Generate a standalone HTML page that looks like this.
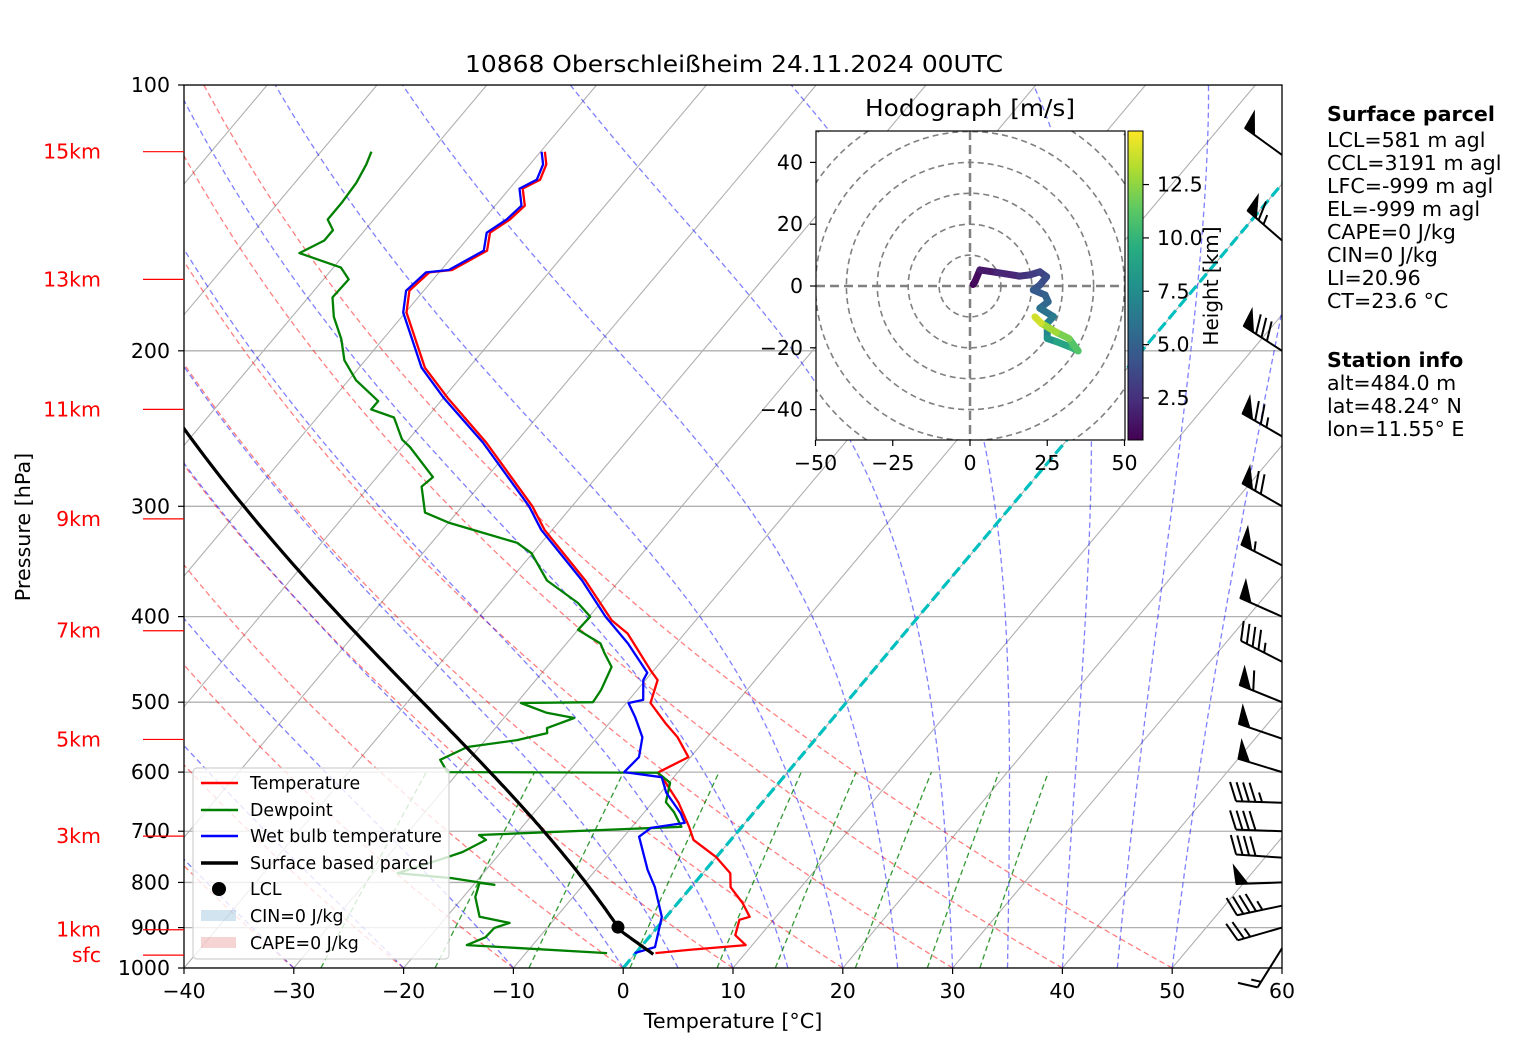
<!DOCTYPE html>
<html><head><meta charset="utf-8"><style>
html,body{margin:0;padding:0;background:#fff;}
svg{display:block;font-family:"DejaVu Sans","Liberation Sans",sans-serif;}
</style></head><body>
<svg id="chart" xmlns="http://www.w3.org/2000/svg" width="1517" height="1054" viewBox="0 0 1517 1054">
<defs>
<clipPath id="plotclip"><rect x="184" y="85" width="1098" height="883"/></clipPath>
<clipPath id="hodoclip"><rect x="816" y="131" width="309" height="309"/></clipPath>
<linearGradient id="viridis" x1="0" y1="1" x2="0" y2="0">
<stop offset="0" stop-color="#440154"/><stop offset="0.125" stop-color="#472d7b"/><stop offset="0.25" stop-color="#3b528b"/><stop offset="0.375" stop-color="#2c728e"/><stop offset="0.5" stop-color="#21918c"/><stop offset="0.625" stop-color="#28ae80"/><stop offset="0.75" stop-color="#5ec962"/><stop offset="0.875" stop-color="#addc30"/><stop offset="1" stop-color="#fde725"/>
</linearGradient>
</defs>
<text x="734" y="72" font-size="23" text-anchor="middle" textLength="538" lengthAdjust="spacingAndGlyphs">10868 Oberschleißheim 24.11.2024 00UTC</text>
<g id="bg" clip-path="url(#plotclip)"></g>
<g id="series" clip-path="url(#plotclip)"></g>
<g id="barbs"></g>
<rect x="184" y="85" width="1098" height="883" fill="none" stroke="#000" stroke-width="1.3"/>
<g id="axes"></g>
<g id="legend">
<rect x="193" y="768" width="256" height="191" rx="4" fill="rgba(255,255,255,0.8)" stroke="#d0d0d0" stroke-width="1.2"/>
<line x1="201" y1="783" x2="238" y2="783" stroke="red" stroke-width="2.5"/>
<text x="250" y="789" font-size="17.4">Temperature</text>
<line x1="201" y1="810" x2="238" y2="810" stroke="green" stroke-width="2.5"/>
<text x="250" y="816" font-size="17.4">Dewpoint</text>
<line x1="201" y1="836" x2="238" y2="836" stroke="blue" stroke-width="2.5"/>
<text x="250" y="842" font-size="17.4">Wet bulb temperature</text>
<line x1="201" y1="863" x2="238" y2="863" stroke="#000" stroke-width="3.5"/>
<text x="250" y="869" font-size="17.4">Surface based parcel</text>
<circle cx="219" cy="889" r="7" fill="#000"/>
<text x="250" y="895" font-size="17.4">LCL</text>
<rect x="201" y="910" width="35" height="11" fill="rgba(31,119,180,0.2)"/>
<text x="250" y="922" font-size="17.4">CIN=0 J/kg</text>
<rect x="201" y="937" width="35" height="11" fill="rgba(214,39,40,0.2)"/>
<text x="250" y="949" font-size="17.4">CAPE=0 J/kg</text>
</g>
<g id="hodo">
<text x="970" y="116" font-size="23" text-anchor="middle" textLength="210" lengthAdjust="spacingAndGlyphs">Hodograph [m/s]</text>
<rect x="816" y="131" width="309" height="309" fill="#fff"/>
<g id="hodobg" clip-path="url(#hodoclip)"></g>
<g id="hodoline" clip-path="url(#hodoclip)"></g>
<rect x="816" y="131" width="309" height="309" fill="none" stroke="#000" stroke-width="1.2"/>
<g id="hodoaxes"></g>
<rect x="1128" y="131" width="15" height="309" fill="url(#viridis)" stroke="#000" stroke-width="1"/>
<g id="cbaxes"></g>
<text x="0" y="0" font-size="20" text-anchor="middle" transform="translate(1218,286) rotate(-90)">Height [km]</text>
</g>
<g id="info" font-size="20.6">
<text x="1327" y="121" font-weight="bold">Surface parcel</text>
<text x="1327" y="147">LCL=581 m agl</text>
<text x="1327" y="170">CCL=3191 m agl</text>
<text x="1327" y="193">LFC=-999 m agl</text>
<text x="1327" y="216">EL=-999 m agl</text>
<text x="1327" y="239">CAPE=0 J/kg</text>
<text x="1327" y="262">CIN=0 J/kg</text>
<text x="1327" y="285">LI=20.96</text>
<text x="1327" y="308">CT=23.6 °C</text>
<text x="1327" y="367" font-weight="bold">Station info</text>
<text x="1327" y="390">alt=484.0 m</text>
<text x="1327" y="413">lat=48.24° N</text>
<text x="1327" y="436">lon=11.55° E</text>
</g>
</svg>
<script>
// ---- sounding data ----
const tempP = [962,954,942,918,882,875,844,810,781,749,716,692,650,617,601,577,548,528,501,472,460,418,404,364,319,300,254,226,209,181,171,163,162,154,147,142,137,131,128,123,119];
const tempT = [1.8,4.6,9.4,7.7,6.9,7.6,5.9,3.6,2.5,0.0,-3.4,-4.8,-7.6,-10.3,-11.8,-10.2,-12.7,-14.9,-17.8,-18.9,-20.3,-25.2,-27.65,-33.1,-40.7,-43.6,-52.7,-59.65,-64.0,-69.9,-71.3,-70.9,-69.0,-67.3,-68.4,-67.6,-67.3,-68.8,-67.9,-68.5,-69.6];
const dewP = [962,942,923,901,889,875,831,801,805,791,781,749,739,716,707,692,666,649,617,601,600,581,562,552,542,535,521,514,501,500,484,456,440,429,414,400,386,364,339,330,313,305,285,278,257,252,238,233,228,216,205,194,183,174,166,161,155,150,146,142,136,129,123,119];
const dewT = [-2.6,-16.0,-14.9,-14.8,-13.8,-17.0,-18.9,-19.6,-18.1,-22.5,-27.8,-24.5,-23.5,-22.3,-23.3,-5.5,-7.3,-8.8,-9.9,-11.8,-31.0,-32.6,-31.1,-27.1,-24.9,-25.3,-23.6,-26.5,-29.6,-23.1,-23.3,-24.1,-25.8,-26.9,-30.0,-29.9,-32.05,-36.6,-40.1,-42.2,-50.0,-52.9,-55.2,-54.9,-59.3,-60.6,-63.0,-65.7,-65.7,-69.3,-71.9,-73.8,-76.2,-77.8,-77.7,-79.3,-84.2,-82.9,-82.9,-84.2,-84.2,-84.4,-84.9,-85.4];
const wetP = [962,947,875,810,774,710,694,685,668,633,608,600,577,548,520,501,497,472,463,429,400,364,319,300,254,226,209,181,171,163,162,154,147,142,137,131,128,123,119];
const wetT = [-0.1,1.3,-0.4,-3.3,-5.3,-8.6,-8.2,-5.5,-6.6,-9.5,-11.1,-14.9,-14.7,-15.9,-18.1,-19.8,-18.7,-20.2,-20.4,-24.4,-28.5,-33.4,-41.0,-43.9,-53.0,-60.0,-64.3,-70.2,-71.6,-71.2,-69.3,-67.6,-68.7,-67.9,-67.6,-69.1,-68.2,-68.8,-69.9];
const surfP = 965;
const surfT = 1.7;
const lclP = 899;
const lclT = -3.6;
// wind barbs
const barbP = [120,150,200,250,300,350,400,450,500,550,600,650,700,750,800,850,900,950];
const barbSpd = [50,65,80,75,70,55,50,45,60,50,50,45,40,40,50,45,25,15];
const barbDir = [306,311,303,300,300,297,294,297,292,289,287,272,272,274,268,258,254,212];
// hodograph
const hodoU = [1,1.6,3.2,8.6,16,19.4,22.6,24.8,22.6,20.5,24.3,25.3,22.6,27,25,25,28,33,35,32,28,23,21];
const hodoV = [0.5,1.4,5.2,4.4,3.2,3.6,4.6,3,0.3,-1.3,-2.9,-5.1,-7.2,-9.9,-12,-17,-18,-20,-21,-17,-15,-12,-10];
const hodoH = [0.5,0.8,1.2,1.8,2.4,2.8,3.2,3.6,4.0,4.4,4.8,5.2,5.6,6.2,6.8,7.6,8.4,9.5,10.5,11.6,12.4,13.5,14.5];
// axis labels
const xTicks = [-40,-30,-20,-10,0,10,20,30,40,50,60];
const pTicks = [100,200,300,400,500,600,700,800,900,1000];
const kmLabels = ['15km','13km','11km','9km','7km','5km','3km','1km','sfc'];
const kmPres = [119,166,233,310,415,551,709,905,967];
const hodoTicks = [-50,-25,0,25,50];
const hodoYTicks = [-40,-20,0,20,40];
const cbTicks = [2.5,5.0,7.5,10.0,12.5];

const NS='http://www.w3.org/2000/svg';
const X0=184,X1=1282,Y0=85,Y1=968,DX=10.98,SK=0.8403;
function py(p){return Y1-883*Math.log10(1000/p);}
function px(T,p){return X0+(T+40)*DX+SK*(Y1-py(p));}
function mk(tag,attrs,parent){const e=document.createElementNS(NS,tag);for(const k in attrs)e.setAttribute(k,attrs[k]);parent.appendChild(e);return e;}
function pathFrom(pts){return pts.map((q,i)=>(i?'L':'M')+q[0].toFixed(1)+' '+q[1].toFixed(1)).join(' ');}
const bg=document.getElementById('bg'), ser=document.getElementById('series'), axes=document.getElementById('axes');

pTicks.forEach(p=>{const l=mk('line',{x1:X0,x2:X1,y1:py(p),y2:py(p),stroke:'#b0b0b0','stroke-width':1.3},bg);

});
for(let T=-140;T<=60;T+=10){const l=mk('path',{d:pathFrom([[px(T,1000),py(1000)],[px(T,100),py(100)]]),stroke:'#b0b0b0','stroke-width':1.1,fill:'none'},bg);

}
for(let T0=-40;T0<=50;T0+=10){const th=T0+273.15;const pts=[];for(let p=1000;p>=100;p-=10){pts.push([px(th*Math.pow(p/1000,0.2857)-273.15,p),py(p)]);}
const l=mk('path',{d:pathFrom(pts),stroke:'rgba(255,0,0,0.5)','stroke-width':1.3,fill:'none','stroke-dasharray':'5.5,3.5'},bg);

}
function es(Tc){return 6.112*Math.exp(17.67*Tc/(Tc+243.5));}
function dTdp(T,p){const Rd=287.04,Lv=2.501e6,Cp=1005.7,eps=0.622;const e=es(T-273.15);const rs=eps*e/(p-e);return (1/p)*(Rd*T+Lv*rs)/(Cp+(Lv*Lv*rs*eps)/(Rd*T*T));}
function moist(t0,p0,pEnd){let T=t0+273.15,p=p0;const pts=[[px(t0,p0),py(p0)]];const h=-5;
while(p>pEnd){const k1=dTdp(T,p),k2=dTdp(T+h/2*k1,p+h/2),k3=dTdp(T+h/2*k2,p+h/2),k4=dTdp(T+h*k3,p+h);T+=h/6*(k1+2*k2+2*k3+k4);p+=h;pts.push([px(T-273.15,p),py(p)]);}
return pts;}
const moistT0=[-40,-30,-20,-10,0,5,10,15,20,25,30,35,40,45,50];
moistT0.forEach(t0=>{const pts=moist(t0,1000,100);
const l=mk('path',{d:pathFrom(pts),stroke:'rgba(0,0,255,0.5)','stroke-width':1.3,fill:'none','stroke-dasharray':'5.5,3.5'},bg);

});
[0.0004,0.001,0.002,0.004,0.007,0.01,0.016,0.024,0.032].forEach(w=>{const pts=[];for(let p=1000;p>=600;p-=10){const e=p*w/(0.622+w);const a=Math.log(e/6.112);const Td=243.5*a/(17.67-a);pts.push([px(Td,p),py(p)]);}
const l=mk('path',{d:pathFrom(pts),stroke:'rgba(0,128,0,0.8)','stroke-width':1.3,fill:'none','stroke-dasharray':'5.5,3.5'},bg);

});
{const l=mk('path',{d:pathFrom([[px(0,1000),py(1000)],[px(0,100),py(100)]]),stroke:'#00bfbf','stroke-width':3.2,fill:'none','stroke-dasharray':'11,5'},bg);

}

function series(P,T,color,w,name){const pts=P.map((p,i)=>[px(T[i],p),py(p)]);
const l=mk('path',{d:pathFrom(pts),stroke:color,'stroke-width':w,fill:'none','stroke-linejoin':'round'},ser);

}
series(tempP,tempT,'red',2.3,'temperature-line');
series(dewP,dewT,'green',2.3,'dewpoint-line');
series(wetP,wetT,'blue',2.3,'wetbulb-line');
// parcel: dry adiabat to LCL then moist adiabat
{const th=(surfT+273.15)*Math.pow(1000/surfP,0.2857);const pts=[];
for(let p=surfP;p>lclP;p-=4){pts.push([px(th*Math.pow(p/1000,0.2857)-273.15,p),py(p)]);}
const mp=moist(lclT,lclP,150);const all=pts.concat(mp);
const l=mk('path',{d:pathFrom(all),stroke:'#000','stroke-width':3.2,fill:'none','stroke-linejoin':'round'},ser);

}
{const c=mk('circle',{cx:px(lclT,lclP),cy:py(lclP),r:6.5,fill:'#000'},ser);

}

xTicks.forEach(T=>{const x=X0+(T+40)*DX;mk('line',{x1:x,x2:x,y1:Y1,y2:Y1+6,stroke:'#000','stroke-width':1.2},axes);
const t=mk('text',{x:x,y:998,'font-size':20.5,'text-anchor':'middle'},axes);t.textContent=(T<0?'\u2212':'')+Math.abs(T);

});
pTicks.forEach(p=>{const y=py(p);mk('line',{x1:X0-6,x2:X0,y1:y,y2:y,stroke:'#000','stroke-width':1.2},axes);
const t=mk('text',{x:170,y:y+7,'font-size':20.5,'text-anchor':'end'},axes);t.textContent=p;

});
kmLabels.forEach((s,i)=>{const y=py(kmPres[i]);mk('line',{x1:143,x2:X0,y1:y,y2:y,stroke:'red','stroke-width':1.2},axes);
const t=mk('text',{x:101,y:y+7,'font-size':20.5,'text-anchor':'end',fill:'red'},axes);t.textContent=s;

});
{const t=mk('text',{x:733,y:1028,'font-size':20.7,'text-anchor':'middle'},axes);t.textContent='Temperature [°C]';


const t2=mk('text',{x:0,y:0,'font-size':20.7,'text-anchor':'middle',transform:'translate(30,527) rotate(-90)'},axes);t2.textContent='Pressure [hPa]';

}

const barbG=document.getElementById('barbs');
barbP.forEach((p,i)=>{const y=py(p),B=[1282,y],d=barbDir[i]*Math.PI/180;const u=[Math.sin(d),-Math.cos(d)],n=[-u[1],u[0]];
const L=46,H=19,W=12,sp=6.5;const tip=[B[0]+u[0]*L,B[1]+u[1]*L];
const g=mk('g',{},barbG);


mk('line',{x1:B[0],y1:B[1],x2:tip[0],y2:tip[1],stroke:'#000','stroke-width':2},g);
let s=barbSpd[i];const flags=Math.floor(s/50);s-=flags*50;const full=Math.floor(s/10);const half=(s%10)>=5?1:0;
let pos=0;const at=q=>[tip[0]-u[0]*q,tip[1]-u[1]*q];
for(let f=0;f<flags;f++){const a=at(pos),b=at(pos+W);const ap=[a[0]+n[0]*H+u[0]*2,a[1]+n[1]*H+u[1]*2];
mk('polygon',{points:[a,ap,b].map(q=>q.join(',')).join(' '),fill:'#000',stroke:'#000','stroke-width':1},g);pos+=W+3;}
for(let f=0;f<full;f++){const a=at(pos);mk('line',{x1:a[0],y1:a[1],x2:a[0]+n[0]*H+u[0]*H*0.35,y2:a[1]+n[1]*H+u[1]*H*0.35,stroke:'#000','stroke-width':2},g);pos+=sp;}
if(half){if(pos===0)pos=sp;const a=at(pos);mk('line',{x1:a[0],y1:a[1],x2:a[0]+(n[0]*H+u[0]*H*0.35)*0.5,y2:a[1]+(n[1]*H+u[1]*H*0.35)*0.5,stroke:'#000','stroke-width':2},g);}
});

const HC=[970,286],HS=3.09;const hb=document.getElementById('hodobg'),hl=document.getElementById('hodoline'),ha=document.getElementById('hodoaxes');
for(let r=10;r<=80;r+=10){const c=mk('circle',{cx:HC[0],cy:HC[1],r:r*HS,fill:'none',stroke:'#808080','stroke-width':1.6,'stroke-dasharray':'6,4'},hb);

}
mk('line',{x1:816,x2:1125,y1:HC[1],y2:HC[1],stroke:'#808080','stroke-width':2.5,'stroke-dasharray':'9,5'},hb);
mk('line',{x1:HC[0],x2:HC[0],y1:131,y2:440,stroke:'#808080','stroke-width':2.5,'stroke-dasharray':'9,5'},hb);
const vir=['#440154','#472d7b','#3b528b','#2c728e','#21918c','#28ae80','#5ec962','#addc30','#fde725'];
function hx(a,b){const [r1,g1,b1]=[1,3,5].map(k=>parseInt(a.substr(k,2),16)),[r2,g2,b2]=[1,3,5].map(k=>parseInt(b.substr(k,2),16));return t=>'rgb('+Math.round(r1+(r2-r1)*t)+','+Math.round(g1+(g2-g1)*t)+','+Math.round(b1+(b2-b1)*t)+')';}
function cmap(h){let t=(h-0.53)/(15.0-0.53);t=Math.max(0,Math.min(1,t))*8;const i=Math.min(7,Math.floor(t));return hx(vir[i],vir[i+1])(t-i);}
for(let i=0;i<hodoU.length-1;i++){const l=mk('line',{x1:HC[0]+hodoU[i]*HS,y1:HC[1]-hodoV[i]*HS,x2:HC[0]+hodoU[i+1]*HS,y2:HC[1]-hodoV[i+1]*HS,stroke:cmap((hodoH[i]+hodoH[i+1])/2),'stroke-width':7,'stroke-linecap':'round'},hl);

}
hodoTicks.forEach(v=>{const x=HC[0]+v*HS;mk('line',{x1:x,x2:x,y1:440,y2:446,stroke:'#000','stroke-width':1.2},ha);
const t=mk('text',{x:x,y:470,'font-size':20.5,'text-anchor':'middle'},ha);t.textContent=(v<0?'\u2212':'')+Math.abs(v);

});
hodoYTicks.forEach(v=>{const y=HC[1]-v*HS;mk('line',{x1:810,x2:816,y1:y,y2:y,stroke:'#000','stroke-width':1.2},ha);
const t=mk('text',{x:803,y:y+7,'font-size':20.5,'text-anchor':'end'},ha);t.textContent=(v<0?'\u2212':'')+Math.abs(v);

});
const cba=document.getElementById('cbaxes');
cbTicks.forEach(v=>{const y=440-(v-0.53)*21.34;mk('line',{x1:1143,x2:1149,y1:y,y2:y,stroke:'#000','stroke-width':1.2},cba);
const t=mk('text',{x:1157,y:y+7,'font-size':20.5},cba);t.textContent=v.toFixed(1);

});
</script>
</body></html>
